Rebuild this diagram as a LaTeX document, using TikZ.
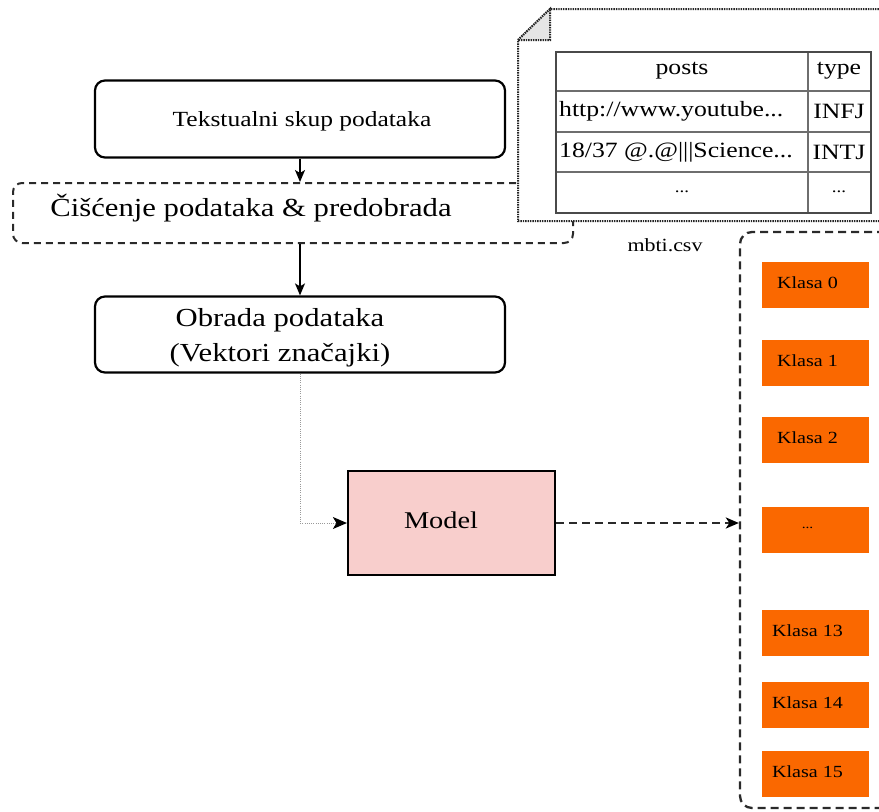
\documentclass[tikz,border=0pt]{standalone}
\usepackage{fontspec}
\setmainfont{Liberation Serif}[FakeStretch=1.18]
\usetikzlibrary{arrows.meta}
\definecolor{orng}{HTML}{FA6800}
\definecolor{pinkfill}{HTML}{F8CECC}
\definecolor{dline}{HTML}{2A2A2A}
\definecolor{tline}{HTML}{4A4A4A}
\begin{document}
\begin{tikzpicture}[x=1pt,y=-1pt,
  box/.style={draw=black, line width=2.2pt, rounded corners=10pt, minimum width=410pt, minimum height=77pt, inner sep=0pt},
  txt/.style={inner sep=0pt, text=black},
  arr/.style={-{Stealth[length=12pt,width=10pt,inset=3pt]}, line width=1.5pt},
  dotarr/.style={draw=black!40, line width=1pt, dash pattern=on 1pt off 1.2pt, -{Stealth[length=14pt,width=12pt,inset=3.5pt,color=black]}},
  dasharr/.style={draw=dline, line width=2.3pt, dash pattern=on 8pt off 5pt, -{Stealth[length=13pt,width=11pt,inset=3.5pt,color=black]}},
  docline/.style={draw=black!85, line width=2pt, dash pattern=on 1.4pt off 1pt},
  kbox/.style={fill=orng, draw=none, minimum width=107pt, minimum height=46pt, inner sep=0pt},
  kl/.style={xshift=-8pt, yshift=2pt, inner sep=0pt, font=\fontsize{17}{20}\selectfont},
  tbl/.style={inner sep=0pt, font=\fontsize{21.8}{26}\selectfont}
]
\useasboundingbox (0,0) rectangle (879,812);
\clip (0,0) rectangle (879,812);

% Tekstualni box
\node[box] (tek) at (300,119) {};
\node[txt, font=\fontsize{21.6}{25}\selectfont] (tektxt) at (302,121) {Tekstualni skup podataka};

% Cleanup dashed box
\node[draw=dline, line width=2pt, dash pattern=on 7pt off 5pt, rounded corners=9pt,
      minimum width=560pt, minimum height=60pt, inner sep=0pt] (clean) at (293,213) {};
\node[txt, font=\fontsize{26}{30}\selectfont] (cleantxt) at (251,208) {Čišćenje podataka \& predobrada};

% Document (csv) over the cleanup box
\path[docline, fill=white] (518,40) -- (550,9) -- (890,9) -- (890,221) -- (518,221) -- cycle;
\path[docline, fill=black!10] (518,40) -- (550,9) -- (550,40) -- cycle;

% Table
\draw[tline!80, line width=1.6pt] (556,91) -- (871,91) (556,132) -- (871,132) (556,172) -- (871,172) (808,52) -- (808,213);
\draw[tline, line width=2.4pt] (556,52) rectangle (871,213);
\node[tbl] (th1) at (682,71) {posts};
\node[tbl] (th2) at (839,71) {type};
\node[tbl, anchor=west] (r1a) at (559,111) {http://www.youtube...};
\node[tbl] (r1b) at (839,111) {INFJ};
\node[tbl, anchor=west] (r2a) at (559,152) {18/37 @.@|||Science...};
\node[tbl] (r2b) at (839,152) {INTJ};
\node[tbl, font=\fontsize{16}{20}\selectfont] (r3a) at (682,192) {...};
\node[tbl, font=\fontsize{16}{20}\selectfont] (r3b) at (839,192) {...};
\node[txt, font=\fontsize{18.6}{22}\selectfont] (mbti) at (665,245) {mbti.csv};

% Obrada box
\node[box, minimum height=76pt] (obr) at (300,334.5) {};
\node[txt, align=center, font=\fontsize{26}{35}\selectfont] (obrtxt) at (280,338) {Obrada podataka\\(Vektori značajki)};

% Model
\node[draw=black, line width=2.2pt, fill=pinkfill, minimum width=207pt, minimum height=104pt, inner sep=0pt] (model) at (451.5,523) {};
\node[txt, font=\fontsize{24}{28}\selectfont] (modeltxt) at (441,520) {Model};

% Container of classes
\node[draw=dline, line width=2.3pt, dash pattern=on 8pt off 5pt, rounded corners=12pt,
      minimum width=170pt, minimum height=576pt, inner sep=0pt] (cont) at (825,520) {};
\node[kbox, label={[kl]center:Klasa 0}] (k0) at (815.5,285) {};
\node[kbox, label={[kl]center:Klasa 1}] (k1) at (815.5,363) {};
\node[kbox, label={[kl]center:Klasa 2}] (k2) at (815.5,440) {};
\node[kbox, label={[kl, font=\fontsize{13}{16}\selectfont]center:...}] (kd) at (815.5,530) {};
\node[kbox, label={[kl]center:Klasa 13}] (k13) at (815.5,633) {};
\node[kbox, label={[kl]center:Klasa 14}] (k14) at (815.5,705) {};
\node[kbox, label={[kl]center:Klasa 15}] (k15) at (815.5,774) {};

% Connectors
\draw[arr] (tek.south) -- (tek.south |- clean.north);
\draw[arr] (tek.south |- clean.south) -- (obr.north);
\draw[dotarr] (obr.south) |- (model.west);
\draw[dasharr] (model.east) -- (model.east -| cont.west);
\end{tikzpicture}
\end{document}
